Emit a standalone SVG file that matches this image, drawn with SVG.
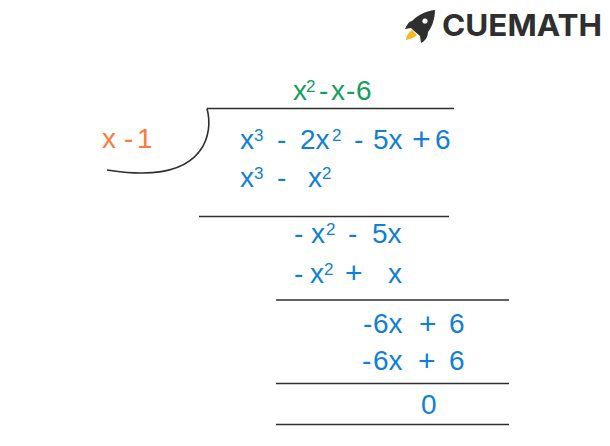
<svg xmlns="http://www.w3.org/2000/svg" width="610" height="446" viewBox="0 0 610 446">
<style>
text{font-family:"Liberation Sans",Arial,sans-serif;font-size:28px;fill:#0f7fd8}
text .s{font-size:17px}
text .p{font-size:30px}
text .q{font-size:32px}
text.g{fill:#14a05a}
text.o{fill:#f97b3d}
.r{fill:none;stroke:#2e2e2e;stroke-width:1.6}
text.logo{font-family:Inter,"Liberation Sans",sans-serif;font-size:30px;font-weight:700;fill:#2f2f2f}
</style>
<rect width="610" height="446" fill="#fff"/>
<g id="logo">
<path d="M435 10C425 11 417 16 412 21C409 21 407 25 405 29L411 28L413 30L420 36L421 43C425 41 428 37 428 32C432 27 435 19 435 10Z" fill="#2f2f2f"/>
<circle cx="425" cy="21" r="2.600" fill="#fff"/>
<path d="M412 30L417 35C414 38 410 39 406 40C406 36 409 32 412 30Z" fill="#fbb81f"/>
<text class="logo" x="442" y="36" textLength="160" lengthAdjust="spacingAndGlyphs">CUEMATH</text>
</g>
<g id="connectors">
<path class="r" d="M207 108.500H454"/>
<path class="r" d="M207 108.500C214 135 203 174 140 173C125 173 115 171 107 170"/>
<path class="r" d="M199 216.500H449"/>
<path class="r" d="M276 300H509"/>
<path class="r" d="M276 383.500H509"/>
<path class="r" d="M276 424.500H509"/>
</g>
<g id="quotient"><text class="g" x="293" y="100">x<tspan class="s" x="306" y="92">2</tspan><tspan x="319" y="100">-</tspan><tspan x="331" y="100">x</tspan><tspan x="346" y="100">-</tspan><tspan x="356" y="100">6</tspan></text></g>
<g id="divisor"><text class="o" x="102" y="148">x<tspan x="124" y="148">-</tspan><tspan x="137" y="148">1</tspan></text></g>
<g id="dividend"><text x="240" y="149">x<tspan class="s" x="254" y="141">3</tspan><tspan x="277" y="149">-</tspan><tspan x="300" y="149">2x</tspan><tspan class="s" x="332" y="141">2</tspan><tspan x="354" y="149">-</tspan><tspan x="373" y="149">5x</tspan><tspan class="q" x="412" y="150">+</tspan><tspan x="435" y="149">6</tspan></text></g>
<g id="step1"><text x="240" y="187">x<tspan class="s" x="254" y="179">3</tspan><tspan x="277" y="187">-</tspan><tspan x="308" y="187">x</tspan><tspan class="s" x="322" y="179">2</tspan></text></g>
<g id="rem1"><text x="294" y="243">-<tspan x="311" y="243">x</tspan><tspan class="s" x="326" y="235">2</tspan><tspan x="348" y="243">-</tspan><tspan x="372" y="243">5x</tspan></text></g>
<g id="step2"><text x="294" y="283">-<tspan x="310" y="283">x</tspan><tspan class="s" x="324" y="275">2</tspan><tspan class="p" x="345" y="283">+</tspan><tspan x="388" y="283">x</tspan></text></g>
<g id="rem2"><text x="363" y="333">-<tspan x="373" y="333">6x</tspan><tspan class="p" x="419" y="334">+</tspan><tspan x="449" y="333">6</tspan></text></g>
<g id="step3"><text x="362" y="370">-<tspan x="373" y="370">6x</tspan><tspan class="p" x="418" y="371">+</tspan><tspan x="449" y="370">6</tspan></text></g>
<g id="result"><text x="421" y="414">0</text></g>
</svg>
